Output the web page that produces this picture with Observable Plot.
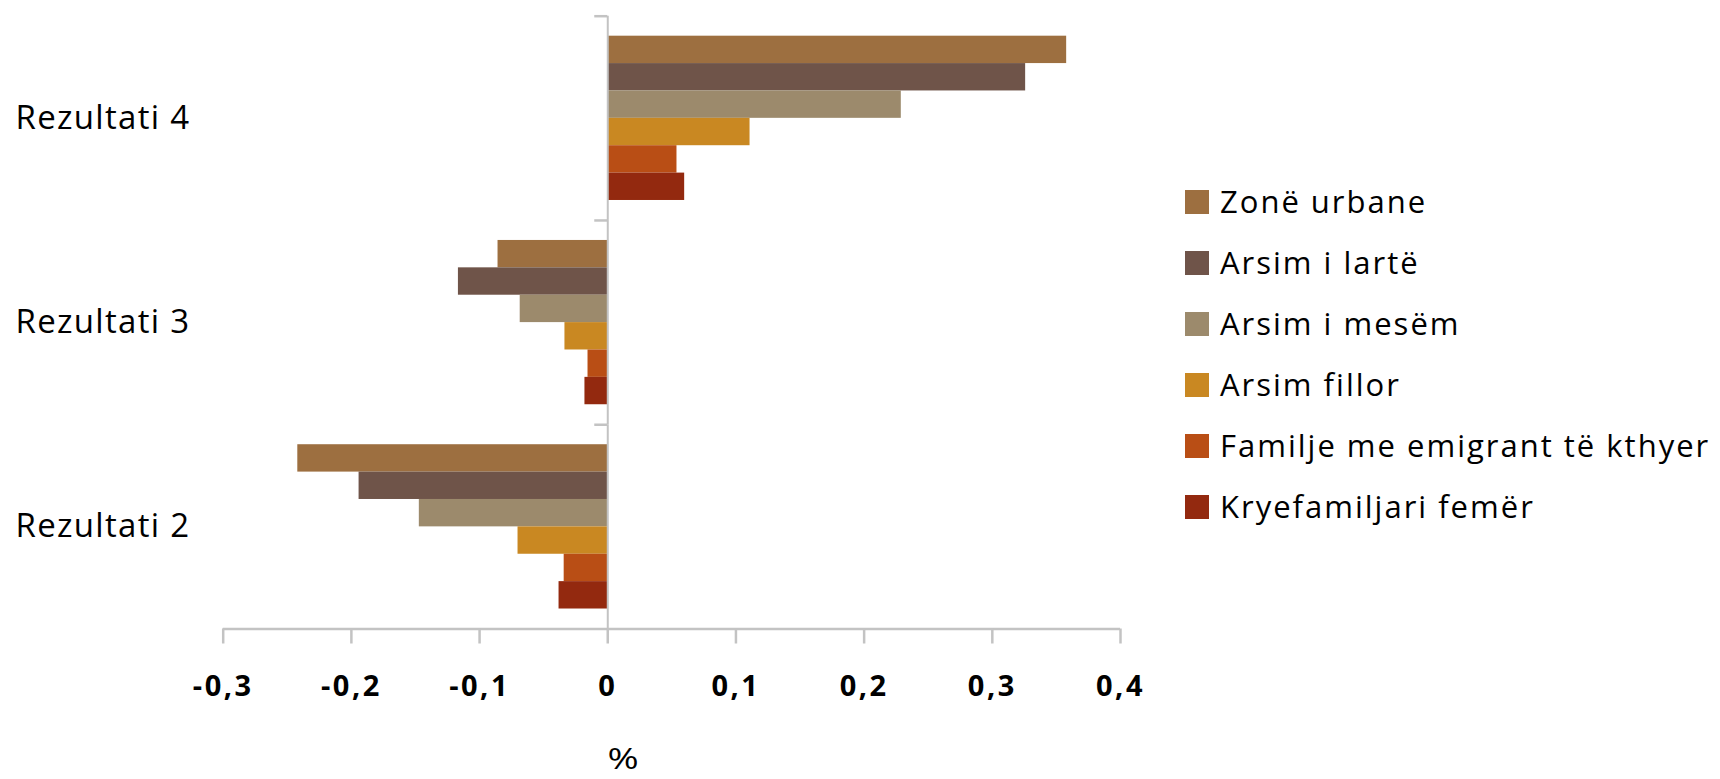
<!DOCTYPE html>
<html>
<head>
<meta charset="utf-8">
<script src="https://cdn.jsdelivr.net/npm/d3@7"></script>
<script src="https://cdn.jsdelivr.net/npm/@observablehq/plot@0.6"></script>
<style>
  html, body { margin: 0; padding: 0; background: #fff; }
  #wrap { position: relative; width: 1720px; height: 779px; font-family: "Open Sans", sans-serif; color: #000; }
  #wrap svg { position: absolute; left: 0; top: 0; }
  #wrap svg [aria-label="x-axis tick label"] text { letter-spacing: 2.5px; }
  #wrap svg g[aria-label="text"] text { letter-spacing: 1.3px; }
  #legend { position: absolute; left: 1185px; top: 189.7px; }
  .row { display: flex; align-items: center; height: 24px; margin-bottom: 37.06px; white-space: nowrap; }
  .sw { width: 24px; height: 24px; margin-right: 11px; flex: none; }
  .lt { font-size: 31px; letter-spacing: 2px; line-height: 24px; position: relative; top: -1px; color: #000; }
  #xlabel { position: absolute; left: 623px; top: 757px; transform: translate(-50%, -50%) scaleX(1.3); font-size: 29px; }
</style>
</head>
<body>
<div id="wrap"></div>
<script>
// ---- data ----
const results = ["Rezultati 4", "Rezultati 3", "Rezultati 2"];
const series = ["Zonë urbane", "Arsim i lartë", "Arsim i mesëm", "Arsim fillor", "Familje me emigrant të kthyer", "Kryefamiljari femër"];
const colors = ["#9D6F40", "#6F5449", "#9C8A6C", "#C98822", "#B94E15", "#93290F"];
const rez4 = [0.358, 0.326, 0.229, 0.111, 0.054, 0.060];
const rez3 = [-0.0856, -0.1165, -0.0683, -0.0334, -0.0154, -0.0178];
const rez2 = [-0.2418, -0.194, -0.147, -0.070, -0.034, -0.038];
const xTicks = [-0.3, -0.2, -0.1, 0, 0.1, 0.2, 0.3, 0.4];
const xLabel = "%";

const valuesByResult = {"Rezultati 4": rez4, "Rezultati 3": rez3, "Rezultati 2": rez2};
const data = results.flatMap(r => series.map((s, i) => ({result: r, series: s, value: valuesByResult[r][i]})));

// ---- layout ----
const W = 1720, H = 779;
const mL = 222.7, mR = 600, mT = 15.7, mB = 150.5;
const padOuter = 0.73;
const facetH = (H - mT - mB) / results.length;
const step = facetH / (series.length + 2 * padOuter);
const edgeOffset = step * (0.5 + padOuter);
const pxPerUnit = (W - mL - mR) / (xTicks[xTicks.length - 1] - xTicks[0]);
const yTickLen = 13 / pxPerUnit;
const axisColor = "#c3c3c3";

const fmt = d3.formatLocale({decimal: ",", thousands: ".", grouping: [3], currency: ["", ""], minus: "-"}).format("");

const plot = Plot.plot({
  width: W, height: H,
  marginLeft: mL, marginRight: mR, marginTop: mT, marginBottom: mB,
  style: {fontFamily: "Open Sans, sans-serif", background: "transparent", overflow: "visible", color: "#000"},
  x: {domain: [xTicks[0], xTicks[xTicks.length - 1]], axis: null},
  y: {domain: series, axis: null, paddingInner: 0, paddingOuter: padOuter, round: false},
  fy: {domain: results, axis: null, padding: 0, round: false},
  color: {domain: series, range: colors},
  marks: [
    Plot.barX(data, {fy: "result", y: "series", x: "value", fill: "series"}),
    // vertical axis line at 0
    Plot.ruleX([0], {stroke: axisColor, strokeWidth: 2}),
    // category boundary ticks on the vertical axis
    Plot.ruleY(results, {fy: d => d, y: () => series[0], dy: -edgeOffset, x1: -yTickLen, x2: 0, stroke: axisColor, strokeWidth: 2.5}),
    // horizontal axis line at bottom
    Plot.ruleY([results[results.length - 1]], {fy: d => d, y: () => series[series.length - 1], dy: edgeOffset, x1: xTicks[0], x2: xTicks[xTicks.length - 1], stroke: axisColor, strokeWidth: 2.5}),
    Plot.axisX({ticks: xTicks, tickSize: 15, tickPadding: 31, tickFormat: fmt, stroke: axisColor, strokeWidth: 2.5, fill: "#000", fontSize: 29, fontWeight: "bold", label: null}),
    // category labels
    Plot.text(results, {fy: d => d, text: d => d, frameAnchor: "left", textAnchor: "start", dx: 15 - mL, fontSize: 33, fill: "#000"})
  ]
});

const wrap = document.getElementById("wrap");
wrap.appendChild(plot);

// legend
const legend = document.createElement("div");
legend.id = "legend";
const colorScale = plot.scale("color");
series.forEach(s => {
  const row = document.createElement("div");
  row.className = "row";
  const sw = document.createElement("div");
  sw.className = "sw";
  sw.style.background = colorScale.apply(s);
  const lt = document.createElement("div");
  lt.className = "lt";
  lt.textContent = s;
  row.appendChild(sw); row.appendChild(lt);
  legend.appendChild(row);
});
wrap.appendChild(legend);

const xl = document.createElement("div");
xl.id = "xlabel";
xl.textContent = xLabel;
wrap.appendChild(xl);
</script>
</body>
</html>
